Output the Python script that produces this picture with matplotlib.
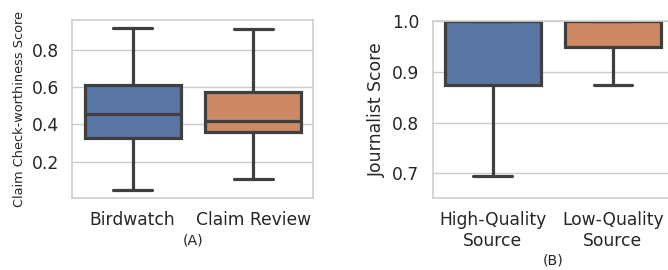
import matplotlib
matplotlib.use('Agg')
import matplotlib.pyplot as plt
import seaborn as sns

sns.set_theme(style='whitegrid')
plt.rcParams['font.family'] = ['DejaVu Sans']

# Panel A data (box statistics)
a_categories = ['Birdwatch', 'Claim Review']
a_whislo = [0.050, 0.107]
a_q1 = [0.330, 0.359]
a_med = [0.455, 0.419]
a_q3 = [0.609, 0.576]
a_whishi = [0.916, 0.911]
a_yticks = [0.2, 0.4, 0.6, 0.8]

# Panel B data
b_categories = ['High-Quality\nSource', 'Low-Quality\nSource']
b_whislo = [0.695, 0.874]
b_q1 = [0.874, 0.949]
b_med = [1.0, 1.0]
b_q3 = [1.0, 1.0]
b_whishi = [1.0, 1.0]
b_yticks = [0.7, 0.8, 0.9, 1.0]

pal = sns.color_palette('deep')
box_colors = [sns.desaturate(pal[0], 0.75), sns.desaturate(pal[1], 0.75)]
edge = '#3f3f3f'
lw = 2.3

fig = plt.figure(figsize=(6.68, 2.70), dpi=100)
axA = fig.add_axes([0.1085, 0.2667, 0.3608, 0.659])
axB = fig.add_axes([0.6475, 0.268, 0.360, 0.654])


def draw(ax, cats, lo, q1, med, q3, hi):
    stats = []
    for i in range(len(cats)):
        stats.append(dict(whislo=lo[i], q1=q1[i], med=med[i], q3=q3[i],
                          whishi=hi[i], fliers=[], label=cats[i]))
    bp = ax.bxp(stats, positions=list(range(len(cats))), widths=0.8,
                capwidths=0.32, patch_artist=True, showfliers=False,
                boxprops=dict(edgecolor=edge, linewidth=lw),
                whiskerprops=dict(color=edge, linewidth=lw),
                capprops=dict(color=edge, linewidth=lw),
                medianprops=dict(color=edge, linewidth=lw))
    for patch, c in zip(bp['boxes'], box_colors):
        patch.set_facecolor(c)
    ax.set_xlim(-0.5, len(cats) - 0.5)
    ax.set_xticks(range(len(cats)))
    ax.set_xticklabels(cats)
    ax.grid(axis='x', visible=False)
    ax.tick_params(axis='both', labelsize=12.3, colors='#262626')
    for s in ax.spines.values():
        s.set_color('#d0d0d0')
        s.set_linewidth(1.25)


draw(axA, a_categories, a_whislo, a_q1, a_med, a_q3, a_whishi)
axA.set_ylim(0.007, 0.958)
axA.set_yticks(a_yticks)
axA.set_ylabel('Claim Check-worthiness Score', fontsize=9.3, color='#262626')
axA.set_xlabel('(A)', fontsize=10.2, color='#262626', labelpad=3)

draw(axB, b_categories, b_whislo, b_q1, b_med, b_q3, b_whishi)
axB.set_ylim(0.652, 1.0)
axB.set_yticks(b_yticks)
axB.set_ylabel('Journalist Score', fontsize=12.4, color='#262626')
axB.set_xlabel('(B)', fontsize=10.2, color='#262626', labelpad=3)

fig.savefig('out.png', dpi=100)
